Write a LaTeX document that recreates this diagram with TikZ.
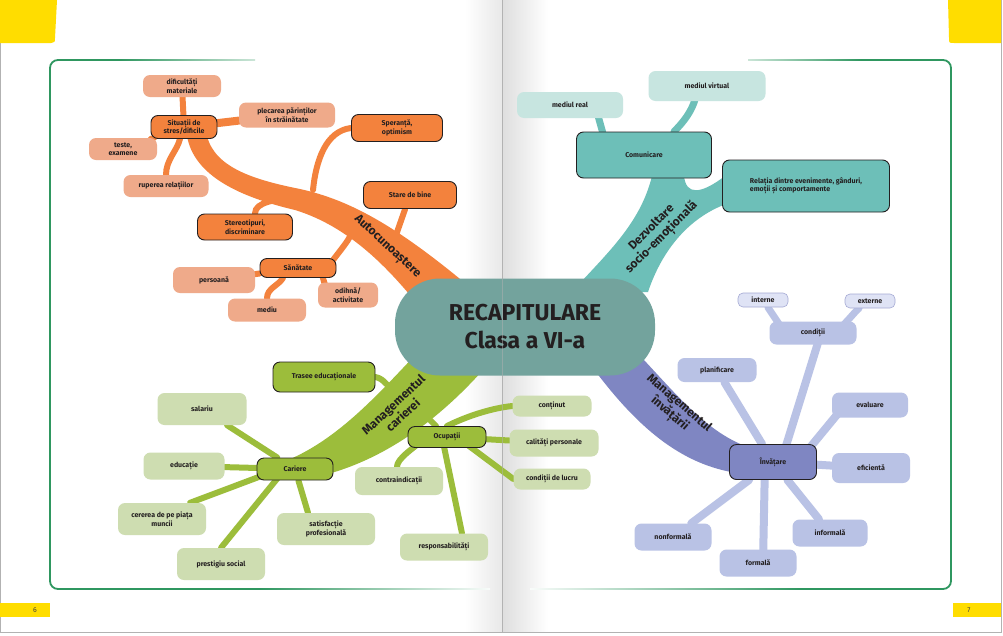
\documentclass[tikz,border=0pt]{standalone}
\usepackage{fontspec}
\setmainfont{Fira Sans}

\newlength{\du}
\setlength{\du}{1pt}

\definecolor{autocolor}{HTML}{F3823D}
\definecolor{autolight}{HTML}{EFAA8A}
\definecolor{socicolor}{HTML}{6DBFB8}
\definecolor{socilight}{HTML}{C7E5E0}
\definecolor{invcolor}{HTML}{7F86C2}
\definecolor{invlight}{HTML}{B9C2E5}
\definecolor{invpale}{HTML}{DFE3F5}
\definecolor{carcolor}{HTML}{9CBD3B}
\definecolor{carlight}{HTML}{CEDDB1}
\definecolor{recapcolor}{HTML}{73A39D}
\definecolor{framecolor}{HTML}{2F9760}
\definecolor{tabcolor}{HTML}{FFDD00}
\definecolor{inkcolor}{HTML}{231F20}

\pgfdeclarelayer{pagelayer}
\pgfdeclarelayer{linklayer}
\pgfsetlayers{pagelayer,linklayer,main}

\tikzset{
  box/.style={rounded corners=7\du, inner sep=1\du, align=center, text=inkcolor,
    font=\fontsize{7}{8.5}\selectfont\bfseries},
  leafbox/.style={box, fill=#1},
  midbox/.style={box, fill=#1, draw=inkcolor, line width=0.9\du},
  palebox/.style={box, fill=invpale, draw=invcolor!70, line width=0.6\du, rounded corners=5\du},
  link/.style={draw=#1, line width=6\du, line cap=round},
  branchlabel/.style={font=\fontsize{12}{14}\selectfont\bfseries, text=inkcolor, align=center},
}

\begin{document}
\begin{tikzpicture}[x=1\du, y=-1\du]
\useasboundingbox (0,0) rectangle (1003,635);

% pages
\begin{pgfonlayer}{pagelayer}
\fill[white] (0,0) rectangle (1003,635);
\shade[left color=white, right color=black!9] (465,0) rectangle (502,632);
\shade[left color=black!13, right color=white] (502,0) rectangle (548,632);
\draw[black!30, line width=0.8\du] (502,0) -- (502,632);
\draw[black!30, line width=1\du] (0.5,0) -- (0.5,632.5) -- (1001.5,632.5) -- (1001.5,0);
\fill[tabcolor] (0,0) -- (57,0) -- (55,38) .. controls (55,42) .. (51,43) -- (0,43) -- cycle;
\fill[tabcolor] (948,0) -- (1001,0) -- (1001,43) -- (954,43) .. controls (949,43) .. (949,38) -- cycle;
\fill[tabcolor] (0,603) rectangle (50,617);
\fill[tabcolor] (953,603) rectangle (1001,617);
\node[font=\fontsize{7}{7}\selectfont, text=black!75] (pagesix) at (35,610) {6};
\node[font=\fontsize{7}{7}\selectfont, text=black!75] (pageseven) at (969,610) {7};
% frame
\draw[framecolor, line width=1.8\du, rounded corners=8\du] (120,60) -- (50,60) -- (50,589) -- (260,589);
\shade[left color=framecolor, right color=framecolor!25] (119,59.1) rectangle (255,60.9);
\shade[left color=framecolor, right color=framecolor!3] (259,588.1) rectangle (490,589.9);
\draw[framecolor, line width=1.8\du, rounded corners=8\du] (860,60) -- (951,60) -- (951,589) -- (800,589);
\shade[left color=framecolor!25, right color=framecolor] (748,59.1) rectangle (861,60.9);
\shade[left color=framecolor!3, right color=framecolor] (530,588.1) rectangle (801,589.9);
\end{pgfonlayer}

% center
\node[fill=recapcolor, rounded corners=45\du, minimum width=260\du, minimum height=97\du,
  align=center, text=inkcolor, font=\fontsize{23}{28}\selectfont\bfseries] (recap) at (525,327) {RECAPITULARE\\Clasa a VI-a};

% Autocunoastere
\node[leafbox=autolight, minimum width=78\du, minimum height=22\du] (dificultati) at (182,86) {dificultăți\\materiale};
\node[leafbox=autolight, minimum width=96\du, minimum height=25\du] (plecarea) at (287,115) {plecarea părinților\\în străinătate};
\node[midbox=autocolor, minimum width=66\du, minimum height=23\du] (situatii) at (184,127) {Situații de\\stres/dificile};
\node[leafbox=autolight, minimum width=68\du, minimum height=22\du] (teste) at (123,149) {teste,\\examene};
\node[leafbox=autolight, minimum width=85\du, minimum height=22\du] (ruperea) at (166,186) {ruperea relațiilor};
\node[midbox=autocolor, minimum width=91\du, minimum height=27\du] (speranta) at (397,128) {Speranță,\\optimism};
\node[midbox=autocolor, minimum width=93\du, minimum height=27\du] (stare) at (410,195) {Stare de bine};
\node[midbox=autocolor, minimum width=95\du, minimum height=26\du] (stereotipuri) at (245,227) {Stereotipuri,\\discriminare};
\node[midbox=autocolor, minimum width=76\du, minimum height=19\du] (sanatate) at (298,268) {Sănătate};
\node[leafbox=autolight, minimum width=82\du, minimum height=26\du] (persoana) at (214,280) {persoană};
\node[leafbox=autolight, minimum width=78\du, minimum height=23\du] (mediu) at (267,310) {mediu};
\node[leafbox=autolight, minimum width=60\du, minimum height=25\du] (odihna) at (348,295) {odihnă/\\activitate};

% Dezvoltare socio-emotionala
\node[leafbox=socilight, minimum width=106\du, minimum height=26\du] (mediulreal) at (570,105) {mediul real};
\node[leafbox=socilight, minimum width=117\du, minimum height=30\du] (mediulvirtual) at (707,86) {mediul virtual};
\node[midbox=socicolor, minimum width=135\du, minimum height=46\du] (comunicare) at (644,155) {Comunicare};
\node[midbox=socicolor, minimum width=167\du, minimum height=52\du, align=left] (relatia) at (806,186) {Relația dintre evenimente, gânduri,\\emoții și comportamente};

% Managementul invatarii
\node[midbox=invcolor, minimum width=87\du, minimum height=35\du] (invatare) at (773,462) {Învățare};
\node[leafbox=invlight, minimum width=87\du, minimum height=23\du] (conditii) at (813,333) {condiții};
\node[palebox, minimum width=50\du, minimum height=14\du] (interne) at (763,300) {interne};
\node[palebox, minimum width=50\du, minimum height=14\du] (externe) at (870,301) {externe};
\node[leafbox=invlight, minimum width=79\du, minimum height=24\du] (planificare) at (717,370) {planificare};
\node[leafbox=invlight, minimum width=76\du, minimum height=25\du] (evaluare) at (870,405) {evaluare};
\node[leafbox=invlight, minimum width=78\du, minimum height=30\du] (eficienta) at (871,468) {eficientă};
\node[leafbox=invlight, minimum width=75\du, minimum height=27\du] (informala) at (830,533) {informală};
\node[leafbox=invlight, minimum width=77\du, minimum height=27\du] (formala) at (758,563) {formală};
\node[leafbox=invlight, minimum width=77\du, minimum height=27\du] (nonformala) at (673,537) {nonformală};

% Managementul carierei
\node[midbox=carcolor, minimum width=102\du, minimum height=30\du] (trasee) at (324,377) {Trasee educaționale};
\node[midbox=carcolor, minimum width=76\du, minimum height=22\du] (cariere) at (295,469) {Cariere};
\node[leafbox=carlight, minimum width=89\du, minimum height=32\du] (salariu) at (202,409) {salariu};
\node[leafbox=carlight, minimum width=81\du, minimum height=27\du] (educatie) at (184,466) {educație};
\node[leafbox=carlight, minimum width=88\du, minimum height=32\du] (cererea) at (162,519) {cererea de pe piața\\muncii};
\node[leafbox=carlight, minimum width=88\du, minimum height=32\du] (prestigiu) at (221,564) {prestigiu social};
\node[leafbox=carlight, minimum width=98\du, minimum height=32\du] (satisfactie) at (326,529) {satisfacție\\profesională};
\node[midbox=carcolor, minimum width=78\du, minimum height=21\du] (ocupatii) at (447,437) {Ocupații};
\node[leafbox=carlight, minimum width=79\du, minimum height=21\du] (continut) at (552,406) {conținut};
\node[leafbox=carlight, minimum width=89\du, minimum height=27\du] (calitati) at (554,443) {calități personale};
\node[leafbox=carlight, minimum width=77\du, minimum height=21\du] (conditiilucru) at (552,479) {condiții de lucru};
\node[leafbox=carlight, minimum width=88\du, minimum height=28\du] (contraindicatii) at (399,481) {contraindicații};
\node[leafbox=carlight, minimum width=88\du, minimum height=27\du] (responsabilitati) at (444,547) {responsabilități};

% join points on the bands
\coordinate (hopejoin) at (313,190);
\coordinate (stereojoin) at (292,197);
\coordinate (starejoin) at (395,238);
\coordinate (healthjoin) at (352,232);
\coordinate (careerjoin) at (395,390);
\coordinate (ocupjoin) at (420,410);

\begin{pgfonlayer}{linklayer}
% bands
\fill[autocolor] (207,136) .. controls (215,168) and (255,180) .. (300,189) .. controls (350,200) and (398,226) .. (478,294)
  -- (432,322) .. controls (402,285) and (360,230) .. (295,210) .. controls (240,197) and (194,176) .. (187,136) -- cycle;
\fill[socicolor] (570,294) .. controls (605,255) and (640,225) .. (652,176) -- (684,176) .. controls (686,195) and (700,195) .. (725,176)
  -- (732,202) .. controls (690,215) and (662,250) .. (648,292) -- cycle;
\fill[invcolor] (625,340) .. controls (670,386) and (700,428) .. (745,446) -- (745,474) .. controls (685,468) and (640,430) .. (596,372) -- cycle;
\fill[carcolor] (420,350) .. controls (380,392) and (340,438) .. (288,460) -- (300,480) .. controls (365,470) and (430,432) .. (490,362) -- cycle;
% orange links
\draw[link=autocolor] (dificultati) -- (situatii);
\draw[link=autocolor, line width=8\du] (plecarea) -- (situatii);
\draw[link=autocolor] (teste) -- (situatii);
\draw[link=autocolor] (ruperea.north) .. controls +(0,-15) and +(-3,12) .. ([xshift=-4\du]situatii.south);
\draw[link=autocolor] (hopejoin) .. controls +(3,-30) and +(-25,3) .. (speranta.west);
\draw[link=autocolor] ([xshift=10\du]stereotipuri.north) .. controls +(0,-12) and +(-15,3) .. (stereojoin);
\draw[link=autocolor] (stare) -- (starejoin);
\draw[link=autocolor] ([xshift=30\du]sanatate.center) .. controls +(5,-10) and +(-3,10) .. (healthjoin);
\draw[link=autocolor] (persoana) -- (sanatate);
\draw[link=autocolor] (mediu.north) .. controls +(0,-10) and +(-5,8) .. ([xshift=-15\du]sanatate.south);
\draw[link=autocolor] ([xshift=-20\du]odihna.center) -- ([xshift=22\du]sanatate.center);
% teal links
\draw[link=socicolor, line width=7\du] ([xshift=25\du]mediulreal.center) -- ([xshift=-35\du]comunicare.center);
\draw[link=socicolor, line width=7\du] ([xshift=-10\du]mediulvirtual.center) .. controls +(0,20) and +(10,-10) .. ([xshift=30\du]comunicare.north);
% purple links
\draw[link=invlight, line width=7\du] (interne) -- ([xshift=-28\du]conditii.center);
\draw[link=invlight, line width=7\du] (externe) .. controls +(-15,10) and +(10,-5) .. ([xshift=20\du]conditii.center);
\draw[link=invlight, line width=8\du] ([xshift=8\du]conditii.center) -- ([xshift=8\du]invatare.center);
\draw[link=invlight, line width=8\du] (planificare) -- (invatare);
\draw[link=invlight, line width=8\du] ([xshift=-25\du]evaluare.center) -- ([xshift=25\du]invatare.center);
\draw[link=invlight, line width=8\du] (eficienta) -- (invatare);
\draw[link=invlight, line width=8\du] (informala) -- (invatare);
\draw[link=invlight, line width=8\du] ([xshift=5\du]formala.center) -- ([xshift=-8\du]invatare.center);
\draw[link=invlight, line width=8\du] (nonformala) -- (invatare);
% green links
\draw[link=carcolor] (trasee.east) .. controls +(10,2) and +(-8,-2) .. (careerjoin);
\draw[link=carcolor] (salariu) -- (cariere);
\draw[link=carcolor] (educatie) -- (cariere);
\draw[link=carcolor] (cererea.30) -- ([xshift=-15\du]cariere.center);
\draw[link=carcolor] (prestigiu.north) -- ([xshift=-10\du]cariere.center);
\draw[link=carcolor] ([xshift=-18\du]satisfactie.north) -- (cariere);
\draw[link=carcolor] (ocupjoin) -- (ocupatii);
\draw[link=carcolor] (ocupatii.north) .. controls +(20,-10) and +(-20,2) .. (continut.west);
\draw[link=carcolor] (ocupatii) -- (calitati);
\draw[link=carcolor] ([xshift=10\du]ocupatii.center) -- (conditiilucru.west);
\draw[link=carcolor] ([xshift=-20\du]ocupatii.center) .. controls +(-15,12) and +(0,-8) .. ([xshift=-2\du]contraindicatii.north);
\draw[link=carcolor] ([xshift=-5\du]ocupatii.center) -- ([xshift=18\du]responsabilitati.north);
\end{pgfonlayer}

% branch labels
\node[branchlabel, rotate=-43] (autolabel) at (387,247) {Autocunoaștere};
\node[branchlabel, rotate=45] (socilabel) at (657,233) {Dezvoltare\\socio-emoțională};
\node[branchlabel, rotate=-41] (invlabel) at (674,409) {Managementul\\învățării};
\node[branchlabel, rotate=43] (carlabel) at (398,410) {Managementul\\carierei};

\draw[black!30, opacity=0.5, line width=0.6\du] (502,0) -- (502,632);
\end{tikzpicture}
\end{document}
